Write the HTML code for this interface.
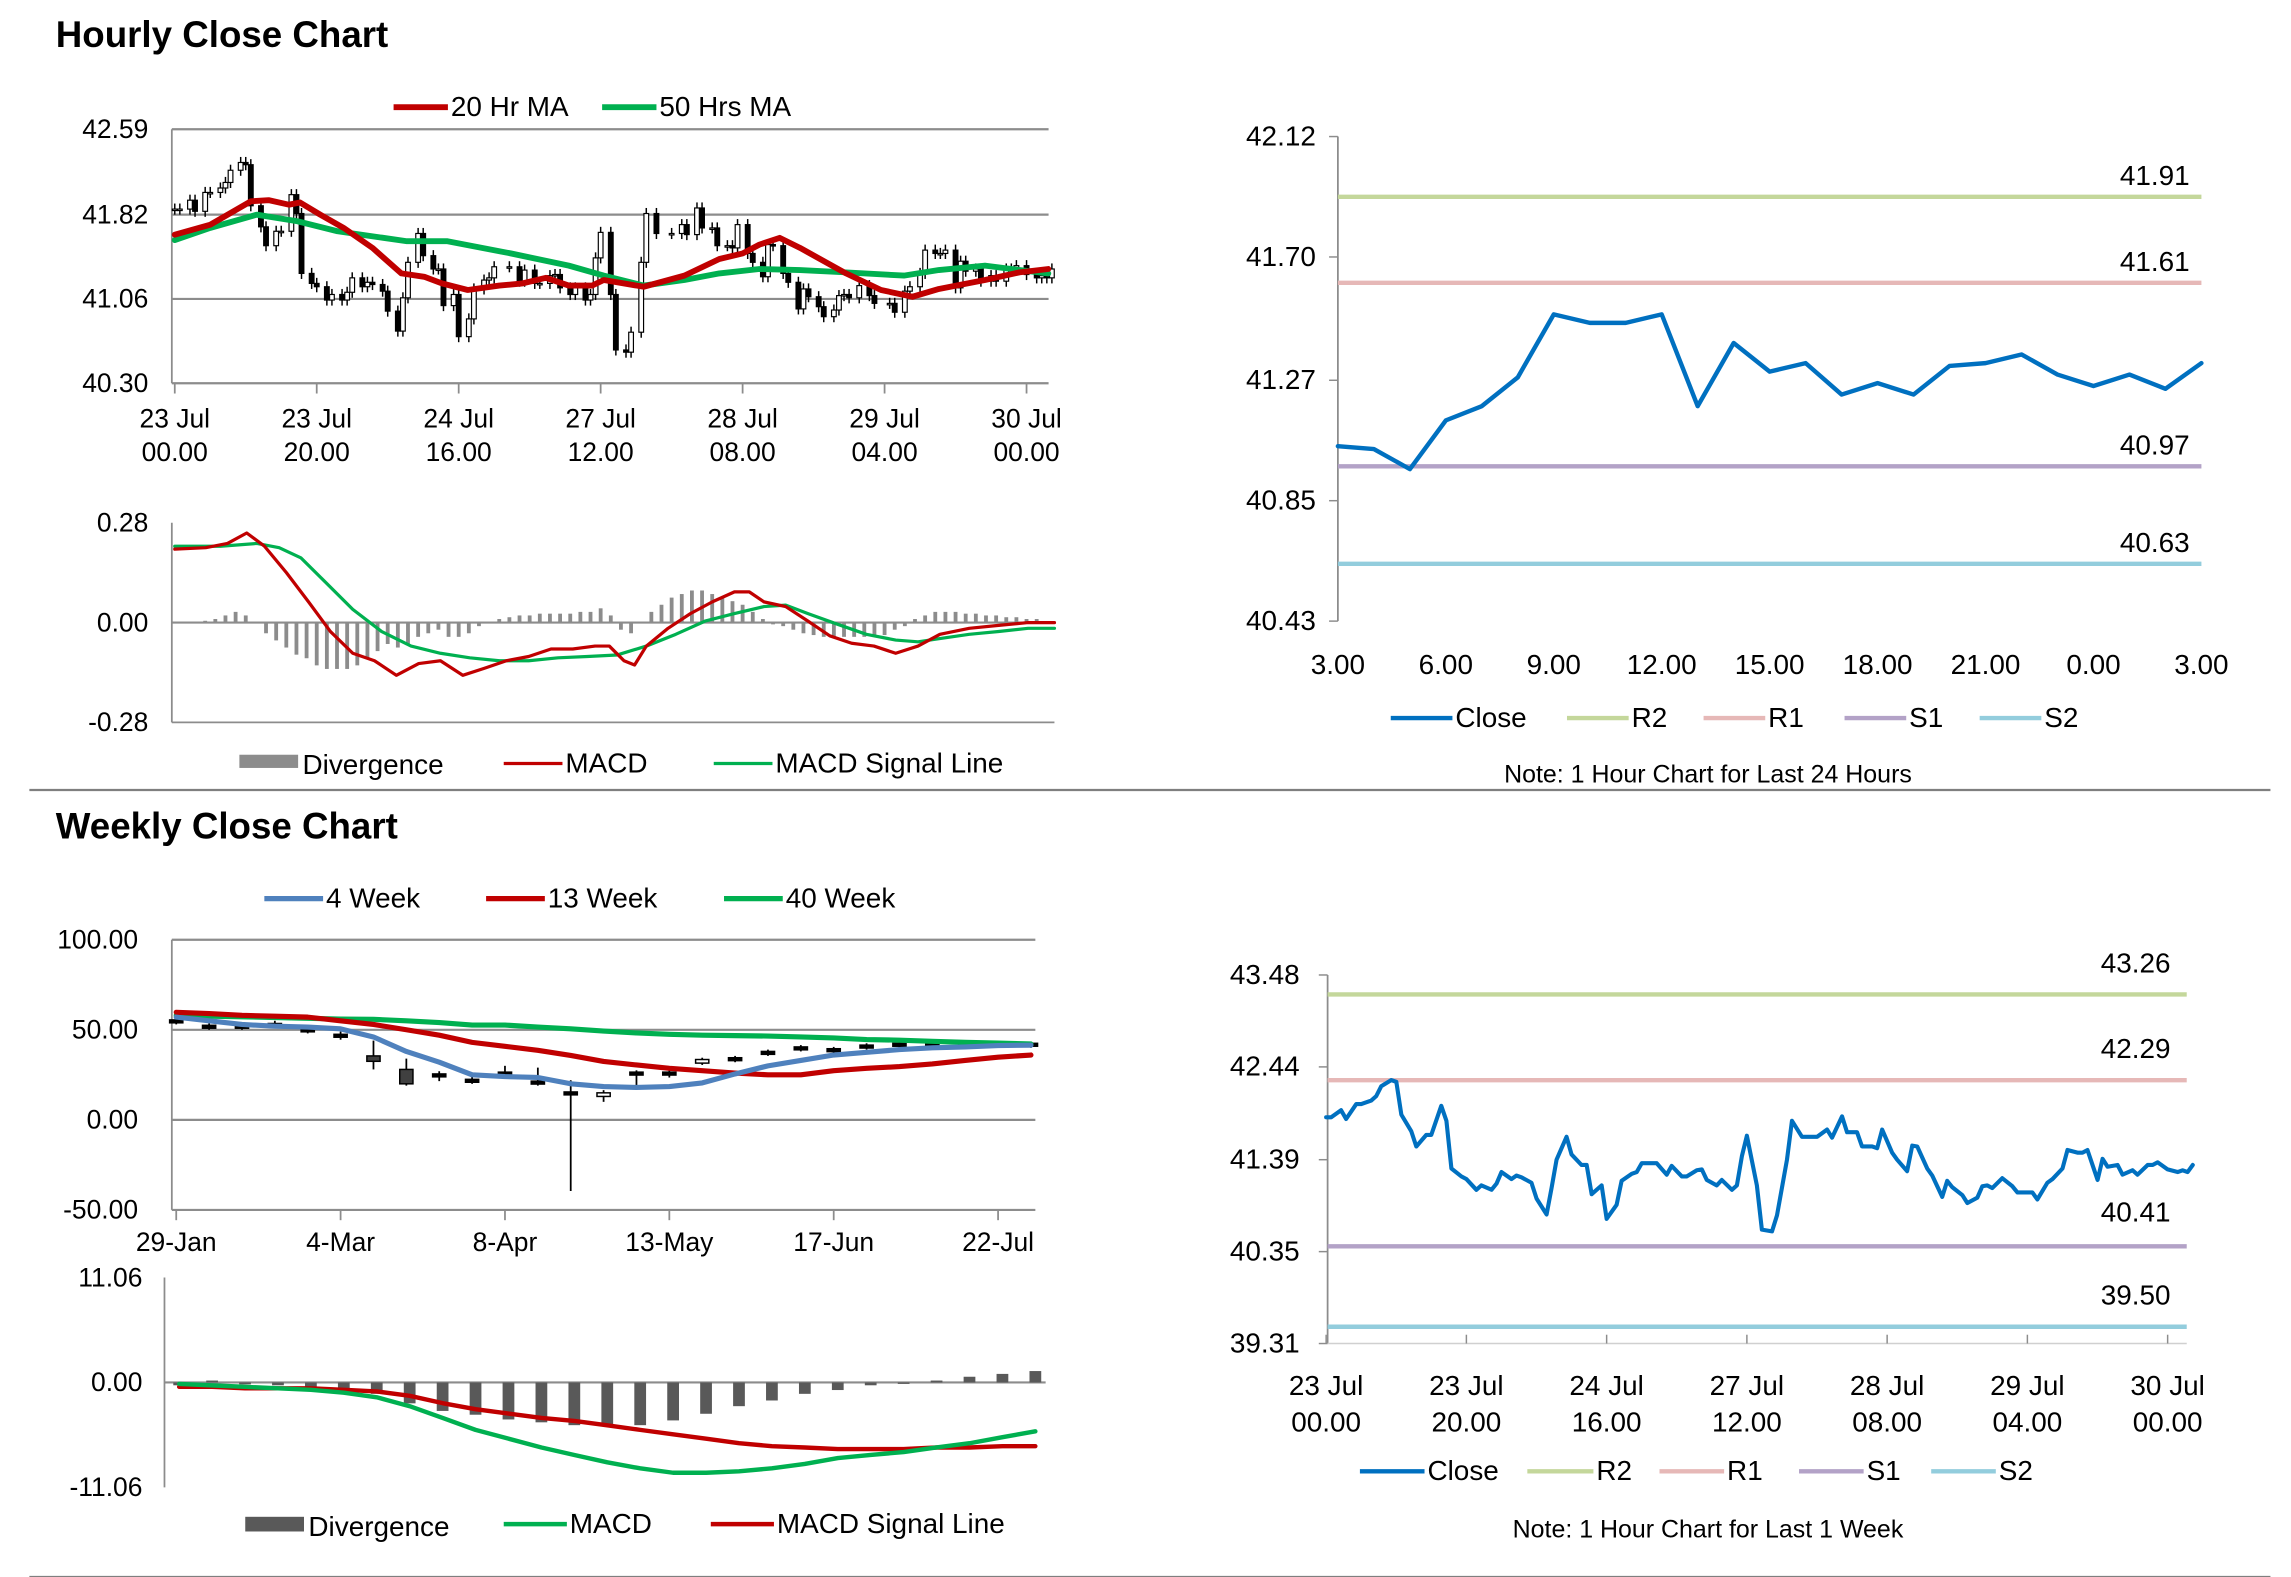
<!DOCTYPE html>
<html><head><meta charset="utf-8"><style>
html,body{margin:0;padding:0;background:#fff;}
svg{display:block;font-family:"Liberation Sans",Arial,sans-serif;}
</style></head><body>
<svg id="s" xmlns="http://www.w3.org/2000/svg" width="2291" height="1577" viewBox="0 0 1560 1074" preserveAspectRatio="none">
<text x="38" y="32" font-size="25" font-weight="bold" fill="#000">Hourly Close Chart</text>
<text x="38" y="571" font-size="25" font-weight="bold" fill="#000">Weekly Close Chart</text>
<line x1="20" y1="538" x2="1546" y2="538" stroke="#7f7f7f" stroke-width="1.5"/>
<line x1="20" y1="1074" x2="1546" y2="1074" stroke="#7f7f7f" stroke-width="1.5"/>
<text x="1163" y="533" font-size="17" text-anchor="middle">Note: 1 Hour Chart for Last 24 Hours</text>
<text x="1163" y="1047" font-size="17" text-anchor="middle">Note: 1 Hour Chart for Last 1 Week</text>
</svg>
<script>
// ---- Week hourly data (shared by hourly candle chart and 1-week close chart)
const weekHours=[0,1,3,4,6,7,9,10,11,13,14,15,17,18,20,21,23,24,25,27,28,30,31,33,34,35,37,38,39,41,42,44,45,46,48,49,51,52,53,55,56,58,59,61,62,63,66,68,69,71,72,74,75,76,78,79,81,82,83,84,86,87,89,90,92,93,95,98,100,101,103,104,106,107,109,110,111,113,114,116,117,118,120,121,123,124,125,127,128,130,131,132,133,135,137,138,141,142,144,145,147,148,150,151,152,154,155,156,158,159,161,162,164,165,166,168,170,171,172,173];
const weekClose=[41.87,41.87,41.95,41.85,42.02,42.02,42.06,42.11,42.22,42.29,42.27,41.90,41.71,41.54,41.67,41.67,42.00,41.83,41.29,41.20,41.17,41.05,41.10,41.05,41.12,41.25,41.17,41.21,41.19,41.13,40.95,40.77,41.07,41.39,41.65,41.45,41.33,41.33,41.00,41.10,40.72,40.88,41.15,41.23,41.25,41.35,41.35,41.22,41.32,41.20,41.20,41.27,41.28,41.16,41.10,41.16,41.05,41.10,41.43,41.66,41.10,40.60,40.58,40.76,41.39,41.83,41.65,41.65,41.73,41.64,41.88,41.70,41.70,41.54,41.54,41.52,41.73,41.47,41.39,41.26,41.55,41.54,41.29,41.21,40.97,41.15,41.08,40.99,40.90,40.96,41.09,41.10,41.07,41.18,41.09,41.02,41.02,40.94,41.13,41.17,41.29,41.50,41.47,41.47,41.50,41.16,41.40,41.31,41.33,41.22,41.27,41.22,41.33,41.33,41.36,41.28,41.25,41.27,41.25,41.33];
const wickSize=0.05;
const ma20Hours=[0,7,11.6,15,18.5,22.5,24.7,28.7,33.3,39,44.7,49.2,52.7,57.8,64,68.6,73.2,77.7,82.3,84.6,92.5,100.5,107.4,112,115.3,119.3,123.3,132.4,139.3,145.5,150.7,159.8,166.6,172.3];
const ma20=[41.64,41.73,41.85,41.94,41.95,41.91,41.93,41.82,41.70,41.52,41.29,41.26,41.20,41.14,41.18,41.20,41.25,41.18,41.18,41.23,41.17,41.27,41.42,41.47,41.55,41.61,41.52,41.29,41.14,41.08,41.15,41.23,41.30,41.33];
const ma50Hours=[0,7,16.2,24.2,32.1,45.8,53.8,66.3,77.7,84.6,92.5,100.5,107.4,115.3,123.3,132.4,143.8,150.7,159.8,166.6,172.3];
const ma50=[41.59,41.70,41.82,41.76,41.67,41.58,41.58,41.47,41.36,41.27,41.18,41.23,41.29,41.33,41.32,41.30,41.27,41.32,41.36,41.32,41.29];
const hourTickIdx=[0,28,56,84,112,140,168];
const hourTickTop=["23 Jul","23 Jul","24 Jul","27 Jul","28 Jul","29 Jul","30 Jul"];
const hourTickBot=["00.00","20.00","16.00","12.00","08.00","04.00","00.00"];
const hourlyYTicks=[42.59,41.82,41.06,40.30];
// hourly MACD
const macdHours=[0,6.1,10.4,14.2,17.7,22,26.4,30.7,35.1,39.4,43.7,48.1,52.4,56.8,61.1,65.4,69.8,74.2,78.5,82.9,85.7,88.6,90.7,93,97.3,101.7,106,110.4,113.3,116.2,120.5,124.9,129.2,133.5,137.9,142.2,146.6,150.9,156.7,162.5,168.3,173.5];
const macdH=[0.206,0.21,0.222,0.251,0.214,0.14,0.058,-0.025,-0.086,-0.107,-0.148,-0.115,-0.107,-0.148,-0.128,-0.107,-0.095,-0.074,-0.074,-0.066,-0.066,-0.107,-0.119,-0.066,-0.016,0.025,0.058,0.086,0.086,0.058,0.045,0.004,-0.037,-0.058,-0.066,-0.086,-0.066,-0.033,-0.016,-0.008,0,0];
const sigHours=[0,9,16.2,20.6,24.9,29.3,35.1,40.8,46.6,52.4,58.2,64,69.8,75.6,81.4,87.2,93,98.8,104.6,110.4,116.2,120.5,124.9,130.6,136.4,142.2,146.6,150.9,156.7,162.5,168.3,173.5];
const sigH=[0.214,0.214,0.222,0.21,0.181,0.119,0.037,-0.025,-0.066,-0.086,-0.099,-0.107,-0.107,-0.099,-0.095,-0.091,-0.066,-0.033,0.004,0.025,0.045,0.049,0.025,-0.004,-0.033,-0.049,-0.054,-0.045,-0.033,-0.025,-0.016,-0.016];
const divH=[0,0,0,0.005,0.01,0.02,0.03,0.02,0,-0.03,-0.05,-0.07,-0.09,-0.1,-0.12,-0.13,-0.13,-0.13,-0.12,-0.1,-0.08,-0.06,-0.07,-0.06,-0.04,-0.03,-0.02,-0.04,-0.04,-0.03,-0.01,0,0.01,0.015,0.02,0.02,0.025,0.025,0.025,0.025,0.03,0.03,0.04,0.02,-0.02,-0.03,0,0.03,0.05,0.07,0.08,0.09,0.09,0.08,0.07,0.06,0.05,0.03,0.01,-0.005,-0.01,-0.02,-0.03,-0.035,-0.04,-0.04,-0.04,-0.04,-0.04,-0.04,-0.035,-0.02,-0.01,0.01,0.02,0.03,0.03,0.03,0.025,0.025,0.02,0.02,0.015,0.015,0.01,0.01];
const divStepHours=2;
// last 24 hours
const dayLabels=["3.00","6.00","9.00","12.00","15.00","18.00","21.00","0.00","3.00"];
const dayClose=[41.04,41.03,40.96,41.13,41.18,41.28,41.50,41.47,41.47,41.50,41.18,41.40,41.30,41.33,41.22,41.26,41.22,41.32,41.33,41.36,41.29,41.25,41.29,41.24,41.33];
const dayYTicks=[42.12,41.70,41.27,40.85,40.43];
const dayLevels=[41.91,41.61,40.97,40.63];
const weekLevels=[43.26,42.29,40.41,39.50];
const levelNames=["R2","R1","S1","S2"];
const weekYTicks=[43.48,42.44,41.39,40.35,39.31];
// weekly candles
const wkLabels=["29-Jan","4-Mar","8-Apr","13-May","17-Jun","22-Jul"];
const wkOpen=[55.5,52.5,52.5,53.5,50.5,47.5,35.5,28,25.5,22.5,26.5,21.5,15.5,13,26.5,26.5,31.5,34.5,38,40.5,39.5,41.5,42.5,43,42.5,42.5,42.5];
const wkClose=[54,51,51,52,49,46,32.5,20,24,21,25,20,14,15,25,25,33.5,33,36.5,39,38,40,41,41.5,41,41,41];
const wkHigh=[56.5,53.5,53.5,55,52,49,44,34,27,24,30,29,22,16.5,27.5,27.5,34.5,35.5,39,41.5,40.5,42.5,43.5,44,43.5,43.5,43.5];
const wkLow=[53,50,50,51,48,44.5,28,19,21.5,20,23,19,-39.5,10,17,23.5,30.5,32,35.5,38,37,39,40,40.5,40,40,40];
const wk4=[57,55,53,52,51.5,50.5,46,38,32,25,24,23.5,20,18.5,18,18.5,20.5,25.5,30,33,36,37.5,39,40,40.5,41.2,41.5];
const wk13=[59.7,59,58,57.5,57,55,53,50,47,43,40.8,38.6,35.8,32.4,30.5,28.6,27.3,26,25,25,27.3,28.6,29.6,31,33,34.8,36];
const wk40=[58,57.5,57.2,56.8,56.4,56,55.8,55,54,52.6,52.6,51.5,50.5,49.3,48.2,47.5,47,46.8,46.5,46,45.5,44.6,44.2,43.6,43,42.6,42.1];
const wkYTicks=[100,50,0,-50];
const wkDiv=[-0.3,0.2,-0.2,-0.3,-0.6,-0.8,-1.2,-2.2,-3.0,-3.4,-3.9,-4.2,-4.5,-4.5,-4.5,-4.0,-3.3,-2.5,-1.9,-1.2,-0.8,-0.3,-0.1,0.2,0.6,0.9,1.2];
const wkMacd=[-0.16,-0.31,-0.47,-0.62,-0.78,-1.09,-1.56,-2.5,-3.74,-4.99,-5.93,-6.86,-7.64,-8.42,-9.05,-9.52,-9.52,-9.36,-9.05,-8.58,-7.96,-7.64,-7.33,-6.86,-6.4,-5.77,-5.15];
const wkSig=[-0.47,-0.47,-0.62,-0.62,-0.62,-0.78,-0.94,-1.4,-2.18,-2.81,-3.28,-3.74,-4.06,-4.52,-4.99,-5.46,-5.93,-6.4,-6.71,-6.86,-7.02,-7.02,-7.02,-6.86,-6.86,-6.71,-6.71];
const wkMacdTicks=[11.06,0,-11.06];

const S=document.getElementById('s');
const NS='http://www.w3.org/2000/svg';
function mk(tag,attrs){const e=document.createElementNS(NS,tag);for(const k in attrs)e.setAttribute(k,attrs[k]);S.appendChild(e);return e;}
function lin(d0,d1,r0,r1){return v=>r0+(v-d0)/(d1-d0)*(r1-r0);}
function txt(x,y,s,anchor,size,name){const e=mk('text',{x:x,y:y,'font-size':size||18,'text-anchor':anchor||'middle',fill:'#000'});e.textContent=s;


return e;}
function hline(x1,x2,y,color,w,name){const e=mk('line',{x1:x1,x2:x2,y1:y,y2:y,stroke:color,'stroke-width':w});


return e;}
function vline(x,y1,y2,color,w,name){const e=mk('line',{x1:x,x2:x,y1:y1,y2:y2,stroke:color,'stroke-width':w});


return e;}
function poly(xs,ys,fx,fy,color,w,name){const pts=xs.map((x,i)=>fx(x).toFixed(1)+','+fy(ys[i]).toFixed(1)).join(' ');
const e=mk('polyline',{points:pts,fill:'none',stroke:color,'stroke-width':w,'stroke-linejoin':'round','stroke-linecap':'round'});


return e;}
function legLine(x1,x2,y,color,w,label,name){hline(x1,x2,y,color,w,name+'-swatch');txt(x2+2,y+6,label,'start',19,name+'-label');}
const GRID='#8c8c8c';
const idx=a=>a.map((_,i)=>i);

// ===== Chart A: hourly candles
{const fx=lin(0,168,119,699), fy=lin(40.30,42.59,261,88);
hourlyYTicks.forEach(v=>{hline(117,714,fy(v),GRID,1.5,'hourly-gridline');txt(101,fy(v)+6,v.toFixed(2),'end',18,'hourly-y-tick');});
vline(117,88,261,GRID,1.2,'hourly-y-axis');
hourTickIdx.forEach((h,i)=>{vline(fx(h),261,268,GRID,1.2,'hourly-x-tick');txt(fx(h),291,hourTickTop[i],'middle',18,'hourly-x-label');txt(fx(h),314,hourTickBot[i],'middle',18,'hourly-x-label');});
weekClose.forEach((c,i)=>{const o=i>0?weekClose[i-1]:c;const hi=Math.max(o,c)+wickSize, lo=Math.min(o,c)-wickSize;const x=fx(weekHours[i]);
const w=mk('line',{x1:x,x2:x,y1:fy(hi),y2:fy(lo),stroke:'#000','stroke-width':1});


const top=fy(Math.max(o,c)),bot=fy(Math.min(o,c));
const b=mk('rect',{x:x-1.6,y:top,width:3.2,height:Math.max(1,bot-top),fill:c>=o?'#fff':'#000',stroke:'#000','stroke-width':0.8});

});
poly(ma50Hours,ma50,fx,fy,'#00b050',4,'ma50-line');
poly(ma20Hours,ma20,fx,fy,'#c00000',4,'ma20-line');
legLine(268,305,73,'#c00000',4,'20 Hr MA','legend-ma20');
legLine(410,447,73,'#00b050',4,'50 Hrs MA','legend-ma50');}

// ===== Chart B: hourly MACD
{const fx=lin(0,168,119,699), fy=lin(-0.28,0.28,492,356);
[0.28,0,-0.28].forEach(v=>txt(101,fy(v)+6,v.toFixed(2),'end',18,'macd-y-tick'));
hline(117,718,fy(0),GRID,1.5,'macd-zero-line');
hline(117,718,fy(-0.28),GRID,1.2,'macd-bottom-axis');
vline(117,356,492,GRID,1.2,'macd-y-axis');
divH.forEach((d,i)=>{const x=fx(i*divStepHours);const y0=fy(0),y1=fy(d);
const r=mk('rect',{x:x-1.3,y:Math.min(y0,y1),width:2.6,height:Math.abs(y1-y0),fill:'#8c8c8c'});

});
poly(sigHours,sigH,fx,fy,'#00b050',2.2,'macd-signal-line');
poly(macdHours,macdH,fx,fy,'#c00000',2.2,'macd-line');
const r=mk('rect',{x:163,y:514,width:40,height:9,fill:'#8c8c8c'});


txt(206,527,'Divergence','start',19,'legend-divergence-label');
legLine(343,383,520,'#c00000',2.2,'MACD','legend-macd');
legLine(486,526,520,'#00b050',2.2,'MACD Signal Line','legend-signal');}

// ===== Chart C: last 24 hours
{const fx=lin(0,24,911,1499), fy=lin(40.43,42.12,423,93);
const cols=['#c4d79b','#e6b8b7','#b3a2c7','#93cddd'];
dayYTicks.forEach(v=>{txt(896,fy(v)+6,v.toFixed(2),'end',19,'day-y-tick');hline(905,911,fy(v),GRID,1,'day-y-tickmark');});
vline(911,93,423,GRID,1.2,'day-y-axis');
dayLabels.forEach((l,i)=>{txt(fx(i*3),459,l,'middle',19,'day-x-label');});
dayLevels.forEach((v,i)=>{hline(911,1499,fy(v),cols[i],3,'day-level-'+levelNames[i].toLowerCase());txt(1491,fy(v)-8,v.toFixed(2),'end',19,'day-level-label');});
poly(idx(dayClose),dayClose,fx,fy,'#0070c0',3,'day-close-line');
legLine(947,989,489,'#0070c0',3,'Close','legend-day-close');
legLine(1067,1109,489,cols[0],3,'R2','legend-day-r2');
legLine(1160,1202,489,cols[1],3,'R1','legend-day-r1');
legLine(1256,1298,489,cols[2],3,'S1','legend-day-s1');
legLine(1348,1390,489,cols[3],3,'S2','legend-day-s2');}

// ===== Chart D: weekly candles
{const fx=lin(0,26,120,702), fy=lin(-50,100,824,640);
wkYTicks.forEach(v=>{hline(117,705,fy(v),GRID,1.5,'weekly-gridline');txt(94,fy(v)+6,v.toFixed(2),'end',18,'weekly-y-tick');});
vline(117,640,824,GRID,1.2,'weekly-y-axis');
wkLabels.forEach((l,i)=>{const x=fx(i*5);vline(x,824,831,GRID,1.2,'weekly-x-tick');txt(x,852,l,'middle',18,'weekly-x-label');});
wkClose.forEach((c,i)=>{const o=wkOpen[i],x=fx(i);
const w=mk('line',{x1:x,x2:x,y1:fy(wkHigh[i]),y2:fy(wkLow[i]),stroke:'#000','stroke-width':1.2});


const top=fy(Math.max(o,c)),bot=fy(Math.min(o,c));
const b=mk('rect',{x:x-4.5,y:top,width:9,height:Math.max(2,bot-top),fill:c>=o?'#fff':(Math.abs(o-c)>2.5?'#404040':'#000'),stroke:'#000','stroke-width':1});

});
poly(idx(wk40),wk40,fx,fy,'#00b050',3.5,'week40-line');
poly(idx(wk13),wk13,fx,fy,'#c00000',3.5,'week13-line');
poly(idx(wk4),wk4,fx,fy,'#4f81bd',3.5,'week4-line');
legLine(180,220,612,'#4f81bd',3.5,'4 Week','legend-week4');
legLine(331,371,612,'#c00000',3.5,'13 Week','legend-week13');
legLine(493,533,612,'#00b050',3.5,'40 Week','legend-week40');}

// ===== Chart E: weekly MACD
{const fx=lin(0,26,122,705), fy=lin(-11.06,11.06,1013,870);
wkMacdTicks.forEach(v=>txt(97,fy(v)+6,v.toFixed(2),'end',18,'weekly-macd-y-tick'));
hline(112,712,fy(0),GRID,1.5,'weekly-macd-zero-line');
vline(112,870,1013,GRID,1.2,'weekly-macd-y-axis');
wkDiv.forEach((d,i)=>{const x=fx(i),y0=fy(0),y1=fy(d);
const r=mk('rect',{x:x-4,y:Math.min(y0,y1),width:8,height:Math.max(1,Math.abs(y1-y0)),fill:'#595959'});

});
poly(idx(wkSig),wkSig,fx,fy,'#c00000',3,'weekly-signal-line');
poly(idx(wkMacd),wkMacd,fx,fy,'#00b050',3,'weekly-macd-line');
const r=mk('rect',{x:167,y:1033,width:40,height:10,fill:'#595959'});


txt(210,1046,'Divergence','start',19,'legend-weekly-divergence-label');
legLine(343,386,1038,'#00b050',3,'MACD','legend-weekly-macd');
legLine(484,527,1038,'#c00000',3,'MACD Signal Line','legend-weekly-signal');}

// ===== Chart F: last week hourly close
{const fx=lin(0,168,903,1476), fy=lin(39.31,43.48,915,664);
const cols=['#c4d79b','#e6b8b7','#b3a2c7','#93cddd'];
weekYTicks.forEach(v=>{txt(885,fy(v)+6,v.toFixed(2),'end',19,'week-y-tick');hline(898,904,fy(v),GRID,1,'week-y-tickmark');});
vline(904,664,915,GRID,1.2,'week-y-axis');
hline(904,1489,915,'#d0d0d0',1,'week-x-axis');
hourTickIdx.forEach((h,i)=>{vline(fx(h),909,915,GRID,1,'week-x-tick');txt(fx(h),950,hourTickTop[i],'middle',19,'week-x-label');txt(fx(h),975,hourTickBot[i],'middle',19,'week-x-label');});
weekLevels.forEach((v,i)=>{hline(904,1489,fy(v),cols[i],3,'week-level-'+levelNames[i].toLowerCase());txt(1478,fy(v)-(i==2?17:15)+ (i==2?0:0),v.toFixed(2),'end',19,'week-level-label');});
poly(weekHours,weekClose,fx,fy,'#0070c0',2.8,'week-close-line');
legLine(926,970,1002,'#0070c0',3,'Close','legend-week-close');
legLine(1040,1085,1002,cols[0],3,'R2','legend-week-r2');
legLine(1130,1174,1002,cols[1],3,'R1','legend-week-r1');
legLine(1225,1269,1002,cols[2],3,'S1','legend-week-s1');
legLine(1315,1359,1002,cols[3],3,'S2','legend-week-s2');}
</script>
</body></html>
